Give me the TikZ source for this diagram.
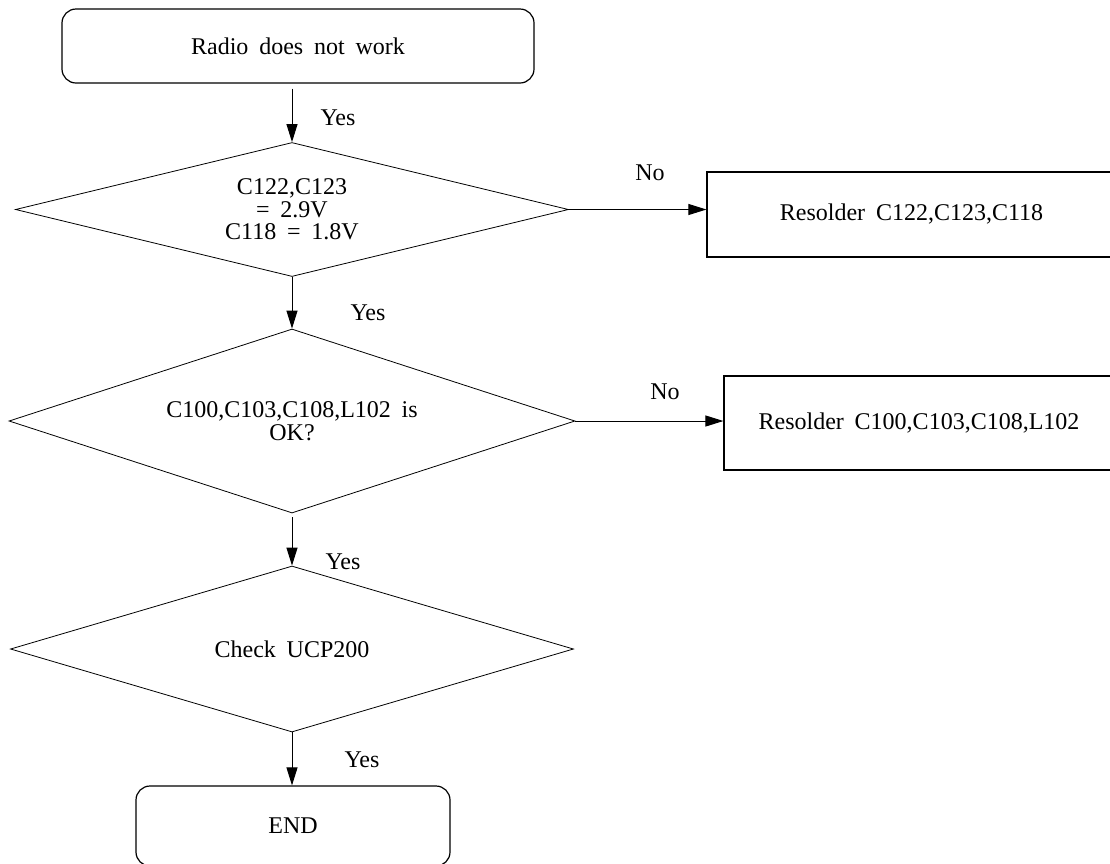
\documentclass[tikz,border=0pt]{standalone}
\usepackage{fontspec}
\setmainfont{Liberation Serif}[WordSpace=1.8]
\usetikzlibrary{shapes.geometric,arrows.meta}

\begin{document}
\begin{tikzpicture}[x=1pt, y=-1pt,
    every node/.style={font=\fontsize{24}{22.5}\selectfont, inner sep=0pt},
    term/.style={draw, line width=1.2pt, rounded corners=14pt, minimum width=472pt, minimum height=74pt},
    caja/.style={draw, line width=1.2pt, minimum height=85pt},
    decision/.style={draw, line width=0.8pt, diamond, aspect=4, align=center},
    flecha/.style={line width=1pt, -{Triangle[length=18pt, width=11pt]}}]
    \useasboundingbox (0,0) rectangle (1110,863);
    \clip (0,0) rectangle (1110,863);

    % Bloques principales
    \node[term] (S) at (298,46) {Radio does not work};
    \node[decision, minimum width=553pt, minimum height=134pt] (C1) at (292,209.5) {C122,C123\\= 2.9V\\C118 = 1.8V};
    \node[decision, minimum width=566pt, minimum height=184pt] (C2) at (292,421) {C100,C103,C108,L102 is\\OK?};
    \node[decision, minimum width=563pt, minimum height=166pt] (C3) at (292,649) {Check UCP200};
    \node[term, minimum width=314pt, minimum height=80pt] (E) at (293,826) {END};

    % Reparaciones
    \node[caja, minimum width=409pt] (R1) at (911.5,214.5) {Resolder C122,C123,C118};
    \node[caja, minimum width=390pt, minimum height=94pt] (R2) at (919,423) {Resolder C100,C103,C108,L102};

    % Flechas
    \draw[flecha] ([yshift=-5pt]S.south -| C1.north) -- (C1.north);
    \draw[flecha] (C1.south) -- (C2.north);
    \draw[flecha] ([yshift=-4pt]C2.south) -- (C3.north);
    \draw[flecha] (C3.south) -- (C3.south |- E.north);
    \draw[flecha] (C1.east) -- (C1.east -| R1.west);
    \draw[flecha] (C2.east) -- (C2.east -| R2.west);

    % Etiquetas
    \node (Y1) at (338,118) {Yes};
    \node (Y2) at (368,313) {Yes};
    \node (Y3) at (343,562) {Yes};
    \node (Y4) at (362,760) {Yes};
    \node (N1) at (650,173) {No};
    \node (N2) at (665,392) {No};
\end{tikzpicture}
\end{document}
